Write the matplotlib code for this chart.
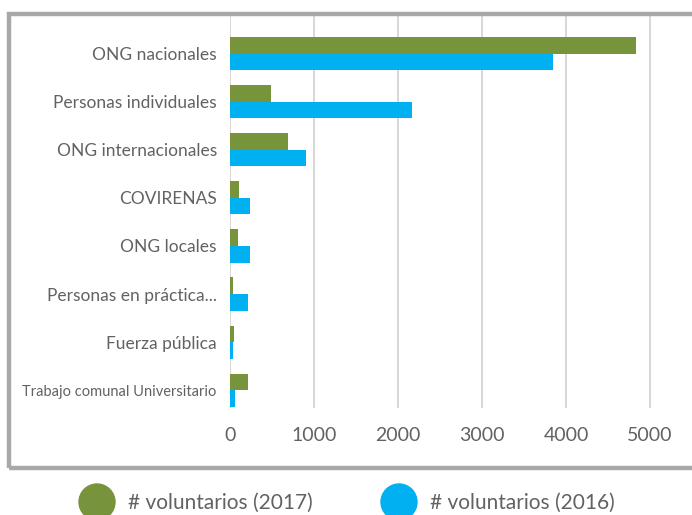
import numpy as np
import matplotlib
matplotlib.use('Agg')
import matplotlib.pyplot as plt
from matplotlib.patches import Rectangle, Ellipse

# Data
categories = ['ONG nacionales', 'Personas individuales', 'ONG internacionales', 'COVIRENAS',
              'ONG locales', 'Personas en práctica...', 'Fuerza pública',
              'Trabajo comunal Universitario']
vol_2017 = [4830, 490, 690, 105, 90, 30, 45, 215]
vol_2016 = [3840, 2170, 900, 240, 240, 215, 40, 55]
x_ticks = [0, 1000, 2000, 3000, 4000, 5000]

green = '#77933c'
blue = '#00b0f0'
text_gray = '#626262'

plt.rcParams['font.family'] = ['Lato', 'DejaVu Sans']

fig = plt.figure(figsize=(6.92, 5.15), dpi=100)
ax = fig.add_axes([230 / 692, 1 - 408 / 515, 1 - 230 / 692, 392 / 515])

y = np.arange(len(categories))
h = 0.345
ax.barh(y - h / 2, vol_2017, height=h, color=green, zorder=3)
ax.barh(y + h / 2, vol_2016, height=h, color=blue, zorder=3)

ax.set_xlim(0, 5500)
ax.set_ylim(7.37, -0.78)
ax.set_xticks(x_ticks)
ax.set_xticklabels([str(t) for t in x_ticks], fontsize=14, color=text_gray)
ax.set_yticks(y)
ax.set_yticklabels(categories, fontsize=12.5, color=text_gray)
for lbl in ax.get_yticklabels():
    if lbl.get_text().startswith('Trabajo'):
        lbl.set_fontsize(10.5)
ax.tick_params(length=0)
ax.tick_params(axis='x', pad=14)
ax.tick_params(axis='y', pad=9.5)
ax.grid(axis='x', color='#d4d4d4', linewidth=1.3, zorder=0)
for s in ax.spines.values():
    s.set_visible(False)

# gray frame around the plot, open to the right edge
frame = Rectangle((9 / 692, 1 - 468 / 515), 1.1, (468 - 14) / 515,
                  transform=fig.transFigure, fill=False, edgecolor='#a8a8a8',
                  linewidth=3.2, clip_on=False)
fig.add_artist(frame)

# legend below the frame
legend_items = [('# voluntarios (2017)', green, 97), ('# voluntarios (2016)', blue, 399)]
for label, col, xc in legend_items:
    fig.add_artist(Ellipse((xc / 692, 1 - 502 / 515), 36 / 692, 36 / 515,
                           transform=fig.transFigure, color=col))
    fig.text((xc + 31) / 692, 1 - 503 / 515, label, fontsize=15, color=text_gray,
             va='center', ha='left')

fig.savefig('out.png', dpi=100)
